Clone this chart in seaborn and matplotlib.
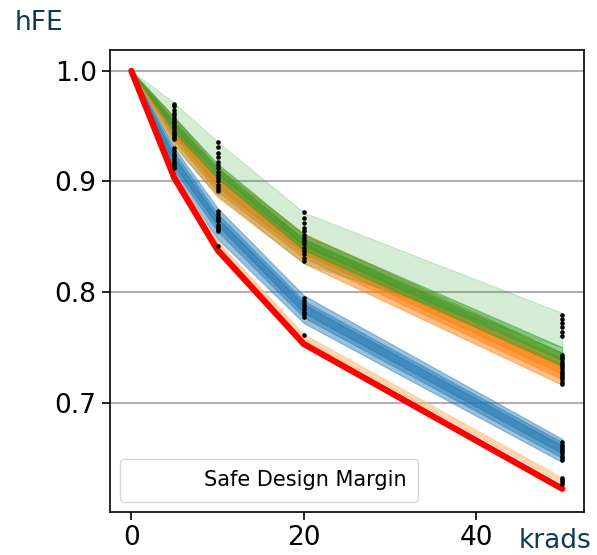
import numpy as np
import pandas as pd
import seaborn as sns
from matplotlib import pyplot as plt
from matplotlib.lines import Line2D

sns.set_style('ticks')

# dose points (krads)
krads = [0, 5, 10, 20, 50]

# worst case line (red) and the peach band just above it
red_line = [1.0, 0.903, 0.838, 0.753, 0.622]
peach_lo = [1.0, 0.905, 0.842, 0.757, 0.627]
peach_hi = [1.0, 0.908, 0.846, 0.762, 0.632]

# blue group bands (outer, inner)
blue_lo = [[1.0, 0.905, 0.848, 0.772, 0.646], [1.0, 0.910, 0.855, 0.777, 0.650], [1.0, 0.914, 0.860, 0.781, 0.654]]
blue_hi = [[1.0, 0.930, 0.876, 0.797, 0.667], [1.0, 0.926, 0.871, 0.792, 0.664], [1.0, 0.922, 0.867, 0.789, 0.661]]

# orange group bands
orange_lo = [[1.0, 0.933, 0.886, 0.826, 0.716], [1.0, 0.937, 0.891, 0.831, 0.721], [1.0, 0.941, 0.895, 0.835, 0.726]]
orange_hi = [[1.0, 0.958, 0.913, 0.853, 0.745], [1.0, 0.953, 0.908, 0.848, 0.740], [1.0, 0.949, 0.903, 0.844, 0.735]]

# green group: wide light band plus darker core
green_lo = [[1.0, 0.930, 0.888, 0.826, 0.750], [1.0, 0.944, 0.903, 0.838, 0.733], [1.0, 0.948, 0.907, 0.842, 0.738]]
green_hi = [[1.0, 0.971, 0.936, 0.872, 0.781], [1.0, 0.958, 0.916, 0.852, 0.750], [1.0, 0.954, 0.912, 0.848, 0.745]]

# measured samples (black dots)
dots_5 = [0.970, 0.968, 0.965, 0.962, 0.960, 0.957, 0.955, 0.953, 0.950, 0.948, 0.946, 0.944, 0.942, 0.940, 0.938,
          0.930, 0.928, 0.925, 0.923, 0.920, 0.918, 0.916, 0.914, 0.912]
dots_10 = [0.936, 0.931, 0.926, 0.922, 0.918, 0.915, 0.912, 0.909, 0.906, 0.903, 0.900, 0.897, 0.894, 0.891,
           0.873, 0.871, 0.868, 0.866, 0.864, 0.861, 0.859, 0.857, 0.855, 0.842]
dots_20 = [0.872, 0.867, 0.862, 0.858, 0.855, 0.852, 0.849, 0.846, 0.843, 0.840, 0.837, 0.834, 0.831, 0.828,
           0.795, 0.792, 0.789, 0.787, 0.785, 0.782, 0.780, 0.777, 0.761]
dots_50 = [0.779, 0.776, 0.772, 0.768, 0.764, 0.760, 0.743, 0.741, 0.739, 0.737, 0.735, 0.733, 0.731, 0.729,
           0.727, 0.725, 0.723, 0.721, 0.719, 0.717, 0.664, 0.662, 0.660, 0.658, 0.656, 0.654, 0.652, 0.650,
           0.648, 0.632, 0.630, 0.628, 0.626]

pts = pd.DataFrame({'x': [5] * len(dots_5) + [10] * len(dots_10) + [20] * len(dots_20) + [50] * len(dots_50),
                    'y': dots_5 + dots_10 + dots_20 + dots_50})

fig = plt.figure(figsize=(5.97, 5.55), dpi=100)
ax = fig.add_axes([0.184, 0.0775, 0.794, 0.8325])

def bands(lo_list, hi_list, color, alphas):
    for lo, hi, a in zip(lo_list, hi_list, alphas):
        ax.fill_between(krads, lo, hi, color=color, alpha=a, lw=0.8)

bands(blue_lo, blue_hi, '#1f77b4', [0.45, 0.45, 0.5])
bands(orange_lo, orange_hi, '#ff7f0e', [0.5, 0.5, 0.55])
bands(green_lo, green_hi, '#2ca02c', [0.2, 0.5, 0.5])
ax.fill_between(krads, peach_lo, peach_hi, color='#ffbb78', alpha=0.6, lw=0.6)

sns.lineplot(x=krads, y=red_line, color='red', lw=4.5, ax=ax, zorder=5)
sns.scatterplot(data=pts, x='x', y='y', color='black', s=11, linewidth=0, ax=ax, zorder=6)

ax.set_xlim(-2.5, 52.5)
ax.set_ylim(0.601, 1.019)
ax.set_xlabel('')
ax.set_ylabel('')
ax.set_xticks([0, 20, 40])
ax.set_yticks([0.7, 0.8, 0.9, 1.0])
ax.tick_params(labelsize=19, length=6, width=1.2, colors='black')
ax.yaxis.grid(True, color='#b0b0b0', lw=1.5)
ax.set_axisbelow(True)
for s in ax.spines.values():
    s.set_linewidth(1.2)
    s.set_color('black')

h = Line2D([], [], color='none')
ax.legend([h], ['Safe Design Margin'], loc='lower left', fontsize=15,
          handlelength=2.65, borderpad=0.55, framealpha=0.8, labelcolor='black')

fig.text(0.025, 0.958, 'hFE', fontsize=19, color='#0b3b55', va='center')
fig.text(0.868, 0.025, 'krads', fontsize=19, color='#0b3b55', va='center')

fig.savefig('out.png', dpi=100)
